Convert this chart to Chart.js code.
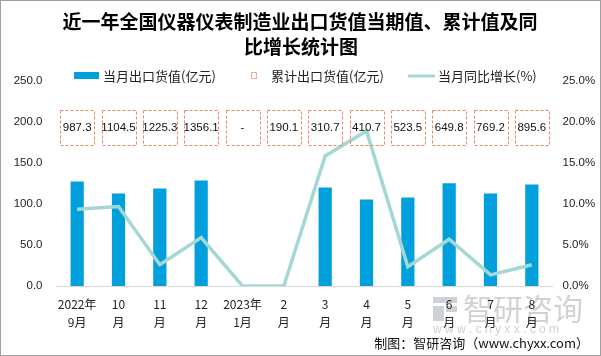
<!DOCTYPE html>
<html><head><meta charset="utf-8">
<script src="https://cdn.jsdelivr.net/npm/chart.js@4/dist/chart.umd.min.js"></script>
<style>html,body{margin:0;padding:0;background:#fff}#wrap{width:601px;height:356px;position:relative}</style>
</head><body><div id="wrap"><canvas id="c" width="601" height="356"></canvas></div>
<script>
const categories = [['2022年','9月'],['10','月'],['11','月'],['12','月'],['2023年','1月'],['2','月'],['3','月'],['4','月'],['5','月'],['6','月'],['7','月'],['8','月']];
const monthlyExport = [127.5,112.7,118.9,128.7,null,null,120.1,105.4,107.8,125.2,112.7,123.8];
const cumulativeExport = [987.3,1104.5,1225.3,1356.1,null,190.1,310.7,410.7,523.5,649.8,769.2,895.6];
const yoyGrowth = [9.35,9.7,2.6,5.9,0,0,15.85,18.9,2.35,5.7,1.35,2.6];
const leftTicks = [0,50,100,150,200,250];
const rightTicks = [0,5,10,15,20,25];

const FONT = '"Liberation Sans", "Noto Sans CJK SC", sans-serif';
const CJK = '"Noto Sans CJK SC", sans-serif';
const BAR = '#00a0dc', LINE = '#a3d8d5', BOX = '#f0836a';

const deco = {
  id:'deco',
  beforeDraw(chart){
    const ctx = chart.ctx;
    ctx.save();
    ctx.fillStyle = '#cdd2d8';
    ctx.fillRect(433,297,24,6); ctx.fillRect(433,306,11,15); ctx.fillRect(446,306,11,6);
    ctx.fillStyle = '#d2d2d2';
    ctx.font = '30px ' + CJK; ctx.textAlign='left'; ctx.textBaseline='middle';
    ctx.fillText('智研咨询', 463, 309);
    ctx.font = '12px ' + FONT;
    ctx.fillText('w w w . c h y x x . c o m', 433, 330);
    ctx.restore();
  },
  afterDraw(chart){
    const ctx = chart.ctx, xs = chart.scales.x, yl = chart.scales.y;
    ctx.save();
    // title
    ctx.fillStyle = '#000'; ctx.textAlign='center'; ctx.textBaseline='middle';
    ctx.font = 'bold 19px ' + CJK;
    ctx.fillText('近一年全国仪器仪表制造业出口货值当期值、累计值及同', 300, 22);
    ctx.fillText('比增长统计图', 301, 47);
    // legend
    ctx.font = '13px ' + CJK; ctx.textAlign='left';
    ctx.fillStyle = BAR; ctx.fillRect(74,72,25,7);
    ctx.fillStyle='#222'; ctx.fillText('当月出口货值(亿元)', 103, 76);
    ctx.strokeStyle = BOX; ctx.lineWidth=1; ctx.setLineDash([2,1]);
    ctx.strokeRect(251.5,72.5,5,6); ctx.setLineDash([]);
    ctx.fillText('累计出口货值(亿元)', 271, 76);
    ctx.strokeStyle = LINE; ctx.lineWidth=3; ctx.beginPath(); ctx.moveTo(408,76); ctx.lineTo(435,76); ctx.stroke();
    ctx.fillText('当月同比增长(%)', 438, 76);
    // cumulative boxes
    const yc = yl.getPixelForValue(193);
    ctx.font = '11.5px ' + FONT; ctx.textAlign='center';
    cumulativeExport.forEach((v,i)=>{
      const x = xs.getPixelForValue(i);
      ctx.strokeStyle = BOX; ctx.lineWidth=1; ctx.setLineDash([3,2]);
      ctx.strokeRect(Math.round(x-17)+0.5, Math.round(yc-17.5)+0.5, 34, 35);
      ctx.setLineDash([]);
      ctx.fillStyle='#111';
      ctx.fillText(v==null?'-':v.toFixed(1), x, yc+0.5);
    });
    // credit
    ctx.fillStyle='#111'; ctx.font='13px ' + CJK; ctx.textAlign='right';
    ctx.fillText('制图：智研咨询（www.chyxx.com）', 589, 343);
    // border
    ctx.strokeStyle='#a0a0a0'; ctx.lineWidth=1; ctx.strokeRect(0.5,0.5,600,355);
    ctx.restore();
  }
};

new Chart(document.getElementById('c'), {
  data:{
    labels: categories,
    datasets:[
      {type:'line', label:'当月同比增长(%)', data: yoyGrowth, yAxisID:'y1', borderColor:LINE, borderWidth:3.5, pointRadius:0, tension:0, order:0},
      {type:'bar', label:'当月出口货值(亿元)', data: monthlyExport, yAxisID:'y', backgroundColor:BAR, barPercentage:0.32, categoryPercentage:1, order:1}
    ]
  },
  options:{
    responsive:false, animation:false,
    layout:{padding:{top:81,left:0,right:0,bottom:0}},
    plugins:{legend:{display:false}, tooltip:{enabled:false}, title:{display:false}},
    scales:{
      x:{grid:{display:false, drawTicks:false}, border:{display:true,color:'#d9d9d9'},
         ticks:{color:'#222', font:{family:CJK,size:12,lineHeight:1.55}, padding:9, maxRotation:0, autoSkip:false},
         afterFit(s){s.height=70;}},
      y:{position:'left', min:0, max:250, grid:{display:false, drawTicks:false}, border:{display:false},
         afterBuildTicks(s){s.ticks = leftTicks.map(v=>({value:v}));},
         ticks:{color:'#222', font:{family:FONT,size:11.5}, padding:14, callback:v=>v.toFixed(1)},
         afterFit(s){s.width=56.5;}},
      y1:{position:'right', min:0, max:25, grid:{display:false, drawTicks:false}, border:{display:false},
         afterBuildTicks(s){s.ticks = rightTicks.map(v=>({value:v}));},
         ticks:{color:'#222', font:{family:FONT,size:11.5}, padding:10, callback:v=>v.toFixed(1)+'%'},
         afterFit(s){s.width=48.5;}}
    }
  },
  plugins:[deco]
});
</script></body></html>
